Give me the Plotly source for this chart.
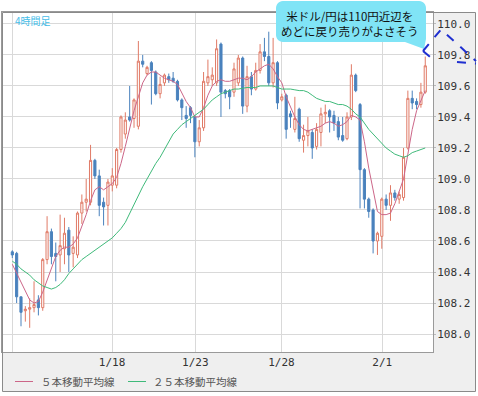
import math
import plotly.graph_objects as go

# ---- data ----
bar_index = list(range(96))
open_ = [108.53,108.52,108.24,108.15,108.16,108.17,108.22,108.17,108.48,108.66,
         108.52,108.51,108.55,108.67,108.52,108.51,108.78,108.85,108.85,109.12,
         109.02,108.85,108.83,108.96,108.96,109.19,109.29,109.40,109.39,109.34,
         109.76,109.68,109.75,109.69,109.55,109.62,109.66,109.65,109.63,109.51,
         109.41,109.46,109.40,109.24,109.33,109.62,109.64,109.62,109.87,109.57,
         109.57,109.56,109.62,109.78,109.47,109.66,109.58,109.70,109.82,109.79,
         109.62,109.75,109.51,109.54,109.42,109.32,109.45,109.25,109.28,109.30,
         109.21,109.30,109.42,109.44,109.41,109.37,109.28,109.26,109.40,109.67,
         109.48,109.06,108.87,108.80,108.60,108.63,108.87,108.83,108.91,108.87,
         108.88,109.20,109.52,109.50,109.48,109.56]
high = [108.54,108.53,108.24,108.18,108.23,108.34,108.25,108.49,108.76,108.68,
        108.59,108.77,108.75,108.69,108.63,108.79,108.90,109.00,109.22,109.13,
        109.06,108.88,109.00,109.07,109.20,109.41,109.43,109.60,109.52,109.89,
        109.80,109.73,109.76,109.70,109.66,109.68,109.68,109.69,109.64,109.52,
        109.47,109.47,109.41,109.38,109.69,109.77,109.72,109.90,109.88,109.58,
        109.58,109.75,109.80,109.79,109.73,109.69,109.75,109.87,109.91,109.95,
        109.91,109.76,109.55,109.55,109.44,109.53,109.46,109.35,109.40,109.32,
        109.36,109.46,109.48,109.45,109.44,109.40,109.40,109.43,109.74,109.68,
        109.49,109.07,108.88,108.81,108.66,108.88,108.90,108.96,108.93,108.92,
        109.20,109.57,109.57,109.52,109.62,109.79]
low = [108.49,108.20,108.05,108.08,108.04,108.14,108.12,108.15,108.45,108.45,
       108.34,108.40,108.45,108.40,108.43,108.49,108.71,108.79,108.83,109.00,
       108.76,108.70,108.70,108.92,108.94,109.17,109.26,109.37,109.33,109.32,
       109.72,109.67,109.48,109.54,109.52,109.60,109.62,109.62,109.50,109.38,
       109.33,109.36,109.14,109.21,109.31,109.60,109.60,109.60,109.40,109.52,
       109.45,109.53,109.60,109.42,109.43,109.54,109.57,109.68,109.76,109.60,
       109.59,109.45,109.50,109.26,109.33,109.30,109.24,109.17,109.21,109.13,
       109.19,109.21,109.36,109.30,109.31,109.25,109.24,109.25,109.38,109.56,
       108.81,108.81,108.75,108.52,108.51,108.55,108.80,108.73,108.86,108.84,
       108.86,109.19,109.45,109.45,109.46,109.55]
close = [108.51,108.24,108.14,108.16,108.17,108.19,108.17,108.48,108.66,108.50,
         108.50,108.57,108.65,108.51,108.56,108.78,108.85,108.87,109.12,109.02,
         108.83,108.82,108.98,109.02,109.19,109.40,109.38,109.38,109.51,109.76,
         109.74,109.72,109.70,109.55,109.61,109.67,109.64,109.63,109.51,109.46,
         109.39,109.41,109.24,109.33,109.63,109.66,109.67,109.84,109.56,109.55,
         109.53,109.71,109.78,109.47,109.66,109.58,109.70,109.82,109.79,109.62,
         109.75,109.49,109.53,109.32,109.40,109.39,109.26,109.28,109.31,109.20,
         109.32,109.42,109.43,109.40,109.36,109.27,109.25,109.40,109.67,109.57,
         109.06,108.87,108.79,108.60,108.65,108.87,108.83,108.91,108.88,108.90,
         109.14,109.52,109.49,109.48,109.56,109.73]
ma5 = [108.45,108.39,108.33,108.27,108.22,108.20,108.21,108.27,108.35,108.43,
       108.50,108.54,108.56,108.56,108.58,108.62,108.69,108.77,108.86,108.93,
       108.95,108.93,108.95,108.97,109.01,109.10,109.21,109.33,109.44,109.53,
       109.62,109.67,109.69,109.69,109.67,109.65,109.64,109.63,109.61,109.56,
       109.50,109.46,109.40,109.40,109.46,109.54,109.60,109.63,109.64,109.63,
       109.63,109.64,109.65,109.65,109.64,109.66,109.69,109.71,109.73,109.74,
       109.71,109.66,109.62,109.53,109.46,109.40,109.35,109.32,109.31,109.32,
       109.33,109.34,109.36,109.37,109.36,109.34,109.35,109.37,109.41,109.40,
       109.38,109.24,109.07,108.93,108.79,108.77,108.77,108.78,108.84,108.92,
       109.00,109.16,109.32,109.44,109.51,109.57]
ma25 = [108.47,108.45,108.42,108.40,108.38,108.35,108.33,108.31,108.30,108.29,
        108.30,108.32,108.35,108.39,108.42,108.45,108.48,108.50,108.52,108.54,
        108.56,108.58,108.60,108.62,108.65,108.68,108.72,108.78,108.84,108.90,
        108.95,109.00,109.05,109.10,109.14,109.19,109.24,109.29,109.32,109.35,
        109.37,109.39,109.41,109.43,109.45,109.48,109.51,109.53,109.55,109.56,
        109.57,109.58,109.58,109.585,109.59,109.59,109.59,109.60,109.60,109.60,
        109.60,109.59,109.58,109.58,109.58,109.575,109.57,109.57,109.56,109.54,
        109.52,109.51,109.50,109.50,109.49,109.48,109.48,109.47,109.45,109.42,
        109.40,109.36,109.32,109.29,109.26,109.23,109.20,109.18,109.16,109.15,
        109.14,109.15,109.17,109.18,109.19,109.20]
date_tick_pos = [0, 22.94, 42.1, 61.9, 85.1]
date_tick_text = ["", "1/18", "1/23", "1/28", "2/1"]
legend_names = ["５本移動平均線", "２５本移動平均線"]
timeframe_label = "4時間足"
callout_text = "米ドル/円は110円近辺を<br>めどに戻り売りがよさそう"

# ---- styling ----
W, H = 478, 396
ML, MR, MT, MB = 2, 45, 12, 44
PW, PH = W - ML - MR, H - MT - MB
RED = "#e07a66"
BLUE = "#4a82bd"
MA5_C = "#cc6688"
MA25_C = "#3fba7a"
GRAY_BG = "#efefef"


def px(x):
    return (x - ML) / PW


def py(y):
    return (MT + PH - y) / PH


fig = go.Figure()
fig.add_trace(go.Candlestick(
    x=bar_index, open=open_, high=high, low=low, close=close,
    increasing=dict(line=dict(color=RED, width=1), fillcolor="white"),
    decreasing=dict(line=dict(color=BLUE, width=1), fillcolor=BLUE),
    whiskerwidth=0, showlegend=False, hoverinfo="skip",
))
fig.add_trace(go.Scatter(x=bar_index, y=ma5, mode="lines",
                         line=dict(color=MA5_C, width=1), name=legend_names[0],
                         showlegend=False))
fig.add_trace(go.Scatter(x=bar_index, y=ma25, mode="lines",
                         line=dict(color=MA25_C, width=1), name=legend_names[1],
                         showlegend=False))

shapes = []
shapes.append(dict(type="rect", xref="paper", yref="paper", layer="below",
                   x0=px(433), x1=px(475), y0=py(391), y1=py(12),
                   fillcolor=GRAY_BG, line=dict(width=0)))
shapes.append(dict(type="rect", xref="paper", yref="paper", layer="below",
                   x0=px(2), x1=px(433), y0=py(391), y1=py(352),
                   fillcolor=GRAY_BG, line=dict(width=0)))
shapes.append(dict(type="rect", xref="paper", yref="paper", layer="above",
                   x0=px(2.5), x1=px(475.5), y0=py(391.5), y1=py(12.5),
                   line=dict(color="#8a8a8a", width=1)))
shapes.append(dict(type="line", xref="paper", yref="paper",
                   x0=px(15), x1=px(33), y0=py(381.5), y1=py(381.5),
                   line=dict(color=MA5_C, width=1)))
shapes.append(dict(type="line", xref="paper", yref="paper",
                   x0=px(128), x1=px(146), y0=py(381.5), y1=py(381.5),
                   line=dict(color=MA25_C, width=1)))


def path_from(points, close_path=True):
    s = "M " + " L ".join(f"{px(a):.5f},{py(b):.5f}" for a, b in points)
    return s + (" Z" if close_path else "")


bx0, bx1, by0, by1, r = 276, 426, 1, 42, 7


def arc(cx, cy, a0, a1):
    out = []
    for k in range(7):
        a = math.radians(a0 + (a1 - a0) * k / 6)
        out.append((cx + r * math.cos(a), cy + r * math.sin(a)))
    return out


pts = []
pts += arc(bx0 + r, by0 + r, 180, 270)
pts += arc(bx1 - r, by0 + r, 270, 360)
pts += [(bx1, by1 - 3), (424, 49), (405, by1)]
pts += arc(bx0 + r, by1 - r, 90, 180)
shapes.append(dict(type="path", xref="paper", yref="paper", layer="above",
                   path=path_from(pts), fillcolor="#80e4f6",
                   line=dict(width=0)))
dash_line = dict(color="#2030d0", width=2, dash="dash")
shapes.append(dict(type="path", xref="paper", yref="paper", layer="above",
                   path=path_from([(423, 51), (441, 29.5), (476, 61)], False),
                   line=dash_line))
shapes.append(dict(type="path", xref="paper", yref="paper", layer="above",
                   path=path_from([(423, 51), (433, 59.5)], False),
                   line=dash_line))
shapes.append(dict(type="path", xref="paper", yref="paper", layer="above",
                   path=path_from([(457, 62), (476, 63.5)], False),
                   line=dash_line))

annotations = [
    dict(text=legend_names[0], xref="paper", yref="paper", x=px(39), y=py(381.5),
         xanchor="left", yanchor="middle", showarrow=False,
         font=dict(family="Noto Sans CJK JP", size=10.5, color="#555")),
    dict(text=legend_names[1], xref="paper", yref="paper", x=px(151), y=py(381.5),
         xanchor="left", yanchor="middle", showarrow=False,
         font=dict(family="Noto Sans CJK JP", size=10.5, color="#555")),
    dict(text=timeframe_label, xref="paper", yref="paper", x=px(13), y=py(20),
         xanchor="left", yanchor="middle", showarrow=False,
         font=dict(family="Noto Sans CJK JP", size=10, color="#45bde8")),
    dict(text=callout_text, xref="paper", yref="paper", x=px(349), y=py(23),
         xanchor="center", yanchor="middle", showarrow=False, align="center",
         font=dict(family="Noto Sans CJK JP", size=11.5, color="#111")),
]

fig.update_layout(
    width=W, height=H, margin=dict(l=ML, r=MR, t=MT, b=MB, pad=0),
    paper_bgcolor="white", plot_bgcolor="white",
    showlegend=False, shapes=shapes, annotations=annotations,
    xaxis=dict(range=[-2.37, 96.78], tickmode="array", tickvals=date_tick_pos,
               ticktext=date_tick_text, showgrid=True, gridcolor="#d9d9d9",
               gridwidth=1, zeroline=False, showline=True, linecolor="#9a9a9a",
               mirror=True, ticks="", rangeslider=dict(visible=False),
               tickfont=dict(family="DejaVu Sans Mono", size=11, color="#333")),
    yaxis=dict(range=[107.884, 110.077], side="right", dtick=0.2, tick0=108.0,
               tickformat=".1f", showgrid=True, gridcolor="#d9d9d9", gridwidth=1,
               zeroline=False, showline=True, linecolor="#9a9a9a", mirror=True,
               ticks="outside", ticklen=2, tickcolor="#bbbbbb",
               ticklabelstandoff=-1,
               tickfont=dict(family="DejaVu Sans Mono", size=11, color="#333")),
    boxgap=0.3,
)

fig.write_html("out.html", config={"displayModeBar": False},
               post_script="document.body.style.margin='0px';"
                           "document.body.style.overflow='hidden';")
